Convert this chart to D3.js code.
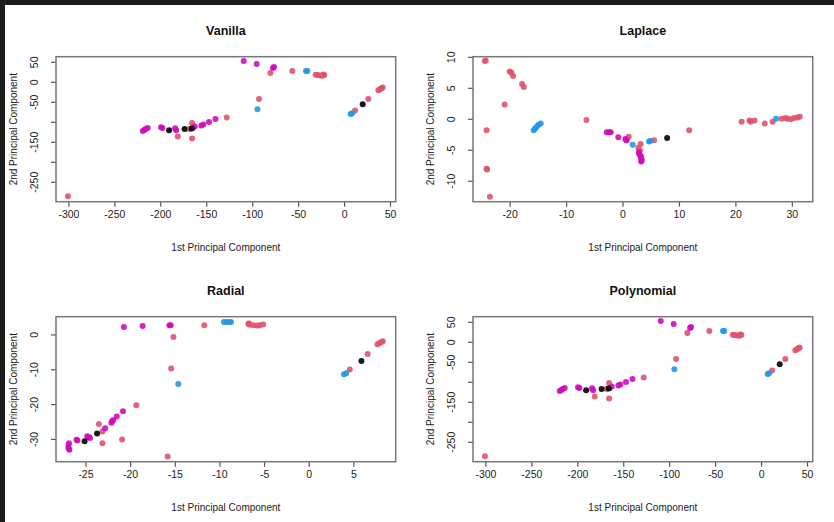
<!DOCTYPE html>
<html>
<head>
<meta charset="utf-8">
<script src="https://cdn.jsdelivr.net/npm/d3@7"></script>
<style>
  body { margin: 0; background: #fff; }
  svg { display: block; font-family: "Liberation Sans", Arial, sans-serif; }
</style>
</head>
<body>
<svg></svg>
<script>
// Vanilla (also used for Polynomial, which shows the same projection)
let vanillaRed = [[-300.5, -285], [-165.4, -101.7], [-168.3, -116.7], [-181, -135.8], [-165.4, -140.8],
  [-127.7, -88.3], [-92.5, -41.7], [-80.2, 23.3], [-56.3, 28.3], [-30.9, 19], [-28.7, 18], [-26.2, 17],
  [-23.7, 16.5], [-21.5, 18.5], [-22.5, 19.5], [12, -70.8], [26.4, -41.7], [37.3, -20], [39, -17.5],
  [40.8, -15], [42, -13.3]]
let vanillaMagenta = [[-219.1, -121.7], [-217.3, -119.2], [-215.9, -116.7], [-213.7, -114.2], [-199.2, -112.5],
  [-197.7, -114.2], [-183.9, -115], [-182.8, -120], [-162.5, -110.8], [-164.7, -114], [-155.3, -108.3],
  [-153.1, -105.8], [-147, -99.2], [-140, -91.7], [-109.2, 53.3], [-95.1, 45.8], [-77.3, 35.8], [-76.2, 38.3]]
let vanillaBlue = [[-94.3, -67.5], [-41.4, 28.3], [-40, 28.3], [7.2, -79.2], [8.7, -77.5]]
let vanillaBlack = [[-190.4, -120], [-173.6, -116.7], [-165.8, -115.8], [20.3, -55]]
let vanillaXTicks = [-300, -250, -200, -150, -100, -50, 0, 50]
let vanillaYTicks = [50, 0, -50, -100, -150, -200, -250]
let vanillaYLabels = [50, 0, -50, -150, -250]

// Laplace
let laplaceRed = [[-24.4, 9.4], [-24.25, 9.5], [-20, 7.7], [-19.7, 7.5], [-19.4, 7.0], [-17.8, 5.7], [-17.5, 5.2],
  [-20.9, 2.4], [-24.1, -1.75], [-24.1, -8.0], [-24.0, -8.1], [-23.5, -12.5], [-6.4, -0.1], [1.1, -2.8],
  [0.7, -3.4], [3.2, -4.0], [2.8, -4.6], [3.1, -5.0], [2.9, -5.5], [3.3, -6.0], [5.6, -3.4], [11.8, -1.75],
  [21.1, -0.4], [22.5, -0.2], [22.7, -0.4], [23.4, -0.2], [25.2, -0.7], [26.6, -0.4], [28.2, 0.1],
  [28.9, 0.2], [29.2, 0.1], [29.8, 0.0], [30.4, 0.2], [31.0, 0.3], [31.4, 0.4]]
let laplaceMagenta = [[-2.8, -2.1], [-2.4, -2.1], [-2.1, -2.1], [-0.75, -2.9], [0.5, -3.2], [0.7, -3.4],
  [2.9, -5.3], [3.1, -5.8], [3.3, -6.3], [3.3, -6.8], [3.4, -6.6]]
let laplaceBlue = [[-15.75, -1.75], [-15.5, -1.5], [-15.2, -1.2], [-14.9, -0.9], [-14.5, -0.7], [1.8, -4.1],
  [4.7, -3.6], [4.9, -3.5], [27.2, 0.1]]
let laplaceBlack = [[7.9, -3.0]]
let laplaceXTicks = [-20, -10, 0, 10, 20, 30]
let laplaceYTicks = [10, 5, 0, -5, -10]

// Radial
let radialRed = [[-11.7, 2.8], [-6.75, 3.2], [-6.6, 2.9], [-6.2, 2.8], [-5.8, 2.7], [-5.5, 2.8], [-5.1, 3.0],
  [-6.7, 3.3], [-15.15, -0.6], [-15.4, -9.6], [-19.3, -20.2], [-23.5, -25.6], [-23.1, -31.1], [-23.1, -27.7],
  [-20.9, -30.0], [-15.8, -34.9], [4.6, -9.9], [6.6, -5.5], [7.7, -2.7], [7.9, -2.4], [8.1, -2.1], [8.3, -1.8]]
let radialMagenta = [[-20.7, 2.3], [-18.6, 2.6], [-15.6, 2.8], [-15.45, 2.8], [-26.9, -31.8], [-26.9, -32.5],
  [-26.85, -31.1], [-26.8, -33], [-26, -30.1], [-25.9, -30.3], [-24.8, -29.1], [-24.6, -29.4], [-24.5, -29.6],
  [-22.8, -26.8], [-22.1, -25.2], [-22, -24.7], [-21.9, -24.5], [-21.5, -23.4], [-20.8, -21.9]]
let radialBlue = [[-14.6, -14.1], [-9.5, 3.7], [-9.2, 3.7], [-8.9, 3.7], [-8.7, 3.7], [3.95, -11.3], [4.2, -11.0]]
let radialBlack = [[-25.1, -30.5], [-23.7, -28.3], [5.9, -7.5]]
let radialXTicks = [-25, -20, -15, -10, -5, 0, 5]
let radialYTicks = [0, -10, -20, -30]

let width = 834
let height = 522

let svg = d3.select('svg')
            .attr('width', width)
            .attr('height', height)

let panels = [
  { title: 'Vanilla', ox: 0, oy: 0, xDomain: [-313.5, 56.2], yDomain: [-298.5, 64],
    red: vanillaRed, magenta: vanillaMagenta, blue: vanillaBlue, black: vanillaBlack,
    xTicks: vanillaXTicks, yTicks: vanillaYTicks, yLabels: vanillaYLabels },
  { title: 'Laplace', ox: 417, oy: 0, xDomain: [-26.5, 33.7], yDomain: [-13.3, 10.1],
    red: laplaceRed, magenta: laplaceMagenta, blue: laplaceBlue, black: laplaceBlack,
    xTicks: laplaceXTicks, yTicks: laplaceYTicks, yLabels: laplaceYTicks },
  { title: 'Radial', ox: 0, oy: 260, xDomain: [-28.3, 9.74], yDomain: [-36.4, 5.24],
    red: radialRed, magenta: radialMagenta, blue: radialBlue, black: radialBlack,
    xTicks: radialXTicks, yTicks: radialYTicks, yLabels: radialYTicks },
  { title: 'Polynomial', ox: 417, oy: 260, xDomain: [-313.5, 56.2], yDomain: [-298.5, 64],
    red: vanillaRed, magenta: vanillaMagenta, blue: vanillaBlue, black: vanillaBlack,
    xTicks: vanillaXTicks, yTicks: vanillaYTicks, yLabels: vanillaYLabels }
]

let box = { left: 56, right: 395.7, top: 56.7, bottom: 201.7 }

let drawPanel = (p) => {
  let g = svg.append('g').attr('transform', 'translate(' + p.ox + ',' + p.oy + ')')

  let xScale = d3.scaleLinear().domain(p.xDomain).range([box.left, box.right])
  let yScale = d3.scaleLinear().domain(p.yDomain).range([box.bottom, box.top])

  // plain hyphen minus, like R prints it
  let xAxis = d3.axisBottom(xScale).tickValues(p.xTicks).tickSize(5).tickPadding(4).tickFormat((d) => String(d))
  let yAxis = d3.axisLeft(yScale).tickValues(p.yTicks).tickSize(5)
                .tickFormat((d) => p.yLabels.includes(d) ? String(d) : '')

  let gx = g.append('g')
            .attr('transform', 'translate(0,' + box.bottom + ')')
            .call(xAxis)
  gx.select('.domain').remove()
  gx.selectAll('line').attr('stroke', '#555').attr('stroke-width', 1.2)
  gx.selectAll('text').attr('font-size', 10.5).attr('fill', '#222')

  let gy = g.append('g')
            .attr('transform', 'translate(' + box.left + ',0)')
            .call(yAxis)
  gy.select('.domain').remove()
  gy.selectAll('line').attr('stroke', '#555').attr('stroke-width', 1.2)
  gy.selectAll('text')
    .attr('font-size', 10.5).attr('fill', '#222')
    .attr('x', null).attr('dy', null)
    .attr('text-anchor', 'middle')
    .attr('transform', (d) => 'translate(-18,' + yScale(d) + ') rotate(-90)')
    .attr('y', 0)
  gy.selectAll('.tick').attr('transform', null)
  gy.selectAll('.tick line').attr('transform', (d) => 'translate(0,' + yScale(d) + ')')

  g.append('rect')
   .attr('x', box.left).attr('y', box.top)
   .attr('width', box.right - box.left).attr('height', box.bottom - box.top)
   .attr('fill', 'none').attr('stroke', '#777').attr('stroke-width', 1.5)

  let series = [
    { data: p.red, color: '#DF536B' },
    { data: p.magenta, color: '#CD0BBC' },
    { data: p.blue, color: '#2297E6' },
    { data: p.black, color: '#000000' }
  ]
  series.forEach((s) => {
    g.append('g').selectAll('circle')
     .data(s.data)
     .enter()
     .append('circle')
     .attr('cx', (d) => xScale(d[0]))
     .attr('cy', (d) => yScale(d[1]))
     .attr('r', 3)
     .attr('fill', s.color)
     .attr('fill-opacity', 0.9)
  })

  g.append('text')
   .attr('x', (box.left + box.right) / 2).attr('y', 35)
   .attr('text-anchor', 'middle').attr('font-size', 12.5).attr('font-weight', 'bold')
   .attr('fill', '#111')
   .text(p.title)

  g.append('text')
   .attr('x', (box.left + box.right) / 2).attr('y', 250.5)
   .attr('text-anchor', 'middle').attr('font-size', 10).attr('fill', '#222')
   .text('1st Principal Component')

  g.append('text')
   .attr('transform', 'translate(17,' + (box.top + box.bottom) / 2 + ') rotate(-90)')
   .attr('text-anchor', 'middle').attr('font-size', 10).attr('fill', '#222')
   .text('2nd Principal Component')
}

panels.forEach(drawPanel)

// dark frame on top and left edges of the screenshot
svg.append('rect').attr('x', 0).attr('y', 0).attr('width', width).attr('height', 5).attr('fill', '#1b1b1b')
svg.append('rect').attr('x', 0).attr('y', 0).attr('width', 5).attr('height', height).attr('fill', '#1b1b1b')
</script>
</body>
</html>
